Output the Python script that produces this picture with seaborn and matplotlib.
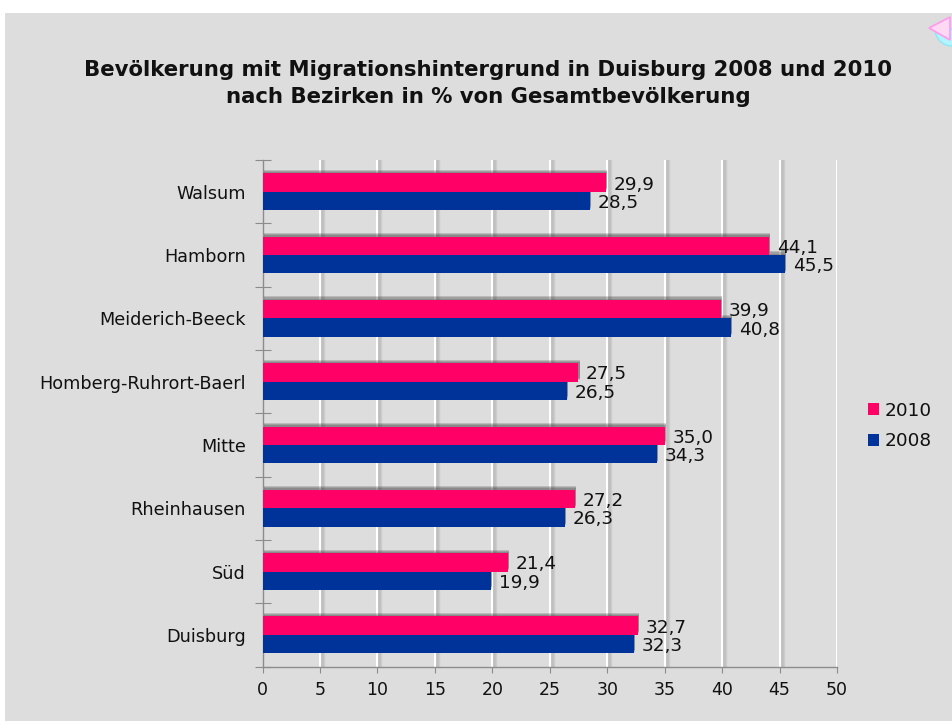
# Horizontal grouped bars: population with migration background in Duisburg
import pandas as pd
import matplotlib
matplotlib.use('Agg')
import matplotlib.pyplot as plt
import matplotlib.patheffects as pe
from matplotlib.patches import Rectangle, Polygon, Wedge
from matplotlib.transforms import IdentityTransform
import seaborn as sns

bezirke = ['Walsum', 'Hamborn', 'Meiderich-Beeck', 'Homberg-Ruhrort-Baerl',
           'Mitte', 'Rheinhausen', 'Süd', 'Duisburg']
werte_2010 = [29.9, 44.1, 39.9, 27.5, 35.0, 27.2, 21.4, 32.7]
werte_2008 = [28.5, 45.5, 40.8, 26.5, 34.3, 26.3, 19.9, 32.3]
jahre = ['2010', '2008']
farben = ['#FF0066', '#003399']
x_ticks = list(range(0, 55, 5))
titel = 'Bevölkerung mit Migrationshintergrund in Duisburg 2008 und 2010\nnach Bezirken in % von Gesamtbevölkerung'

W, H = 952, 721
GRAU = '#DDDDDD'

sns.set_theme(style='white')
plt.rcParams['font.family'] = ['DejaVu Sans']

df = pd.DataFrame({'Bezirk': bezirke * 2,
                   'Jahr': ['2010'] * 8 + ['2008'] * 8,
                   'Wert': werte_2010 + werte_2008})

fig = plt.figure(figsize=(W / 100, H / 100), dpi=100, facecolor='white')
# grey page behind the chart, starts a bit below and right of the corner
fig.patches.append(Rectangle((5 / W, 0), 1 - 5 / W, 1 - 13 / H, transform=fig.transFigure,
                             facecolor=GRAU, edgecolor='none', zorder=-5))

ax = fig.add_axes([262.5 / W, 1 - 666.5 / H, (837 - 262.5) / W, (666.5 - 160) / H])
ax.set_facecolor('none')

sns.barplot(data=df, y='Bezirk', x='Wert', hue='Jahr', hue_order=jahre, order=bezirke,
            palette=farben, orient='h', width=0.58, gap=0, saturation=1, legend=False, ax=ax,
            edgecolor='none', linewidth=0)

# bars get a soft dark shadow along the top edge, stacked layers fake the blur
schatten = [pe.SimplePatchShadow(offset=(0.8, o), shadow_rgbFace='#333333', alpha=0.2) for o in (2.6, 1.8, 1.0)]
schatten.append(pe.Normal())
for i, cont in enumerate(ax.containers):
    for patch in cont:
        patch.set_path_effects(schatten)
        patch.set_zorder(4 if i == 0 else 3)

# data labels with a German decimal comma
for cont in ax.containers:
    texte = ax.bar_label(cont, fmt=lambda v: f'{v:.1f}'.replace('.', ','), padding=5.5, fontsize=13.3,
                         color='#111111', zorder=6)
    for t in texte:
        t.xyann = (5.5, -1.5)

ax.set_xlim(0, 50)
ax.set_ylim(7.5, -0.5)
ax.set_xticks(x_ticks)
ax.set_xlabel('')
ax.set_ylabel('')

# white gridlines with a light grey shadow on their right side
ax.set_axisbelow(True)
ax.xaxis.grid(True, color='white', linewidth=1.5,
              path_effects=[pe.SimpleLineShadow(offset=(2.2, 0), shadow_color='#888888', alpha=0.2, linewidth=3.2),
                            pe.SimpleLineShadow(offset=(1.5, 0), shadow_color='#888888', alpha=0.18, linewidth=1.8),
                            pe.Normal()])
ax.yaxis.grid(False)
ax.xaxis.get_gridlines()[0].set_visible(False)

for name in ['top', 'right']:
    ax.spines[name].set_visible(False)
for name in ['left', 'bottom']:
    ax.spines[name].set_color('#8C8C8C')
    ax.spines[name].set_linewidth(1.0)

# y ticks sit on category borders, labels stay in the middle
ax.set_yticks([i - 0.5 for i in range(9)], minor=True)
ax.tick_params(axis='y', which='major', length=0, pad=12, labelsize=12.7, labelcolor='#111111')
ax.tick_params(axis='y', which='minor', direction='inout', length=12, width=0.8, color='#8C8C8C', left=True)
ax.tick_params(axis='x', which='major', direction='out', length=4, width=0.8, color='#8C8C8C',
               bottom=True, pad=6.5, labelsize=12.5, labelcolor='#111111')

fig.text(488 / W, 1 - 83.5 / H, titel, ha='center', va='center', fontsize=15.35, fontweight='bold',
         color='#111111', linespacing=1.45)

# legend
griffe = [Rectangle((0, 0), 1, 1, facecolor=f, edgecolor='none') for f in farben]
fig.legend(griffe, jahre, loc='center left', bbox_to_anchor=(868 / W, 1 - 426 / H), frameon=False,
           fontsize=13.3, handlelength=0.6, handleheight=0.6, handletextpad=0.3, labelspacing=0.7,
           borderpad=0, borderaxespad=0, labelcolor='#111111')

# little cursor icon in the top right corner, pixel coordinates
fig.patches.append(Wedge((952, H - 29), 17, 180, 360, transform=IdentityTransform(), facecolor='#B4F4FC',
                         edgecolor='#88E8F8', linewidth=1))
fig.patches.append(Polygon([(929 / W, 1 - 28 / H), (950 / W, 1 - 17 / H), (950 / W, 1 - 40 / H)],
                           closed=True, transform=fig.transFigure, facecolor='#FFD8F4', edgecolor='#FF99EE',
                           linewidth=1.2))

fig.savefig('out.png', dpi=100, facecolor=fig.get_facecolor())
